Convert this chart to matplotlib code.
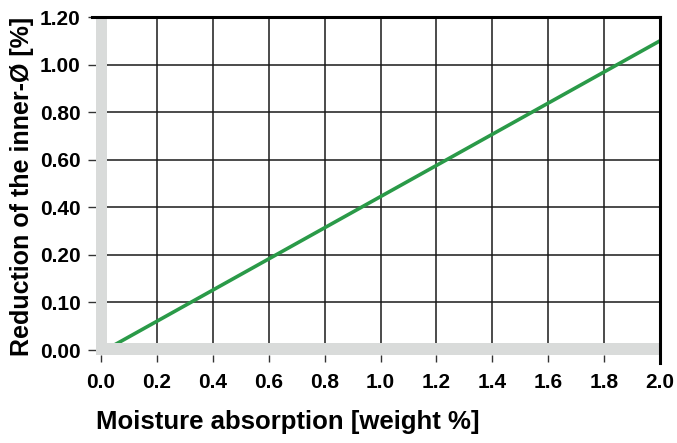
import numpy as np
import matplotlib.pyplot as plt

plt.rcParams['font.family'] = ['Liberation Sans', 'DejaVu Sans']

# tick values on the y axis (evenly spaced on the chart, uneven in value)
y_ticks = [0.00, 0.10, 0.20, 0.40, 0.60, 0.80, 1.00, 1.20]
y_labels = ['0.00', '0.10', '0.20', '0.40', '0.60', '0.80', '1.00', '1.20']
x_ticks = [0.0, 0.2, 0.4, 0.6, 0.8, 1.0, 1.2, 1.4, 1.6, 1.8, 2.0]
x_labels = ['0.0', '0.2', '0.4', '0.6', '0.8', '1.0', '1.2', '1.4', '1.6', '1.8', '2.0']

# curve: moisture absorption vs reduction of inner diameter
moisture = [0.0, 2.0]
reduction = [-0.005, 1.10]

green = '#2a9a48'
band = '#d9dbda'

pos = np.arange(len(y_ticks), dtype=float)
vals = np.array(y_ticks)


# piecewise linear mapping so the uneven ticks sit on an even grid
def fwd(v):
    v = np.asarray(v, dtype=float)
    out = np.interp(v, vals, pos)
    out = np.where(v < vals[0], (v - vals[0]) / (vals[1] - vals[0]), out)
    out = np.where(v > vals[-1], pos[-1] + (v - vals[-1]) / (vals[-1] - vals[-2]), out)
    return out


def inv(p):
    p = np.asarray(p, dtype=float)
    out = np.interp(p, pos, vals)
    out = np.where(p < pos[0], vals[0] + p * (vals[1] - vals[0]), out)
    out = np.where(p > pos[-1], vals[-1] + (p - pos[-1]) * (vals[-1] - vals[-2]), out)
    return out


fig = plt.figure(figsize=(6.77, 4.43), dpi=100)
ax = fig.add_axes([0.1418, 0.1986, 0.9749 - 0.1418, 0.9616 - 0.1986])
ax.set_yscale('function', functions=(fwd, inv))

ax.set_xlim(-0.018, 2.0)
ax.set_ylim(-0.0105, 1.20)

ax.set_xticks(x_ticks)
ax.set_xticklabels(x_labels)
ax.set_yticks(y_ticks)
ax.set_yticklabels(y_labels)
ax.minorticks_off()

ax.grid(True, color='#1a1a1a', linewidth=1.1, zorder=1)
ax.set_axisbelow(True)

ax.plot(moisture, reduction, color=green, linewidth=2.6, zorder=3,
        solid_capstyle='butt')

# grey bands standing in for left and bottom axis lines
ax.axvspan(-0.018, 0.021, color=band, zorder=4, lw=0)
ax.axhspan(-0.0105, 0.0147, color=band, zorder=4, lw=0)

for side in ['left', 'bottom']:
    ax.spines[side].set_visible(False)
for side in ['top', 'right']:
    ax.spines[side].set_linewidth(2.2)
    ax.spines[side].set_color('black')
    ax.spines[side].set_zorder(5)
# right edge line runs a little past the bottom band
ax.spines['right'].set_bounds(-0.027, 1.20)
ax.spines['top'].set_bounds(-0.032, 2.0)

ax.tick_params(axis='both', labelsize=15, color='#333333', width=1.0,
               length=6, direction='out')
ax.tick_params(axis='x', pad=8, length=5)
ax.tick_params(axis='y', pad=5)
for lab in ax.get_xticklabels() + ax.get_yticklabels():
    lab.set_fontweight('bold')

ax.set_xlabel('Moisture absorption [weight %]', fontsize=18.5, loc='left',
              labelpad=13, fontweight='bold')
ax.set_ylabel('Reduction of the inner-Ø [%]', fontsize=18, labelpad=4,
              fontweight='bold')

fig.savefig('out.png', dpi=100)
